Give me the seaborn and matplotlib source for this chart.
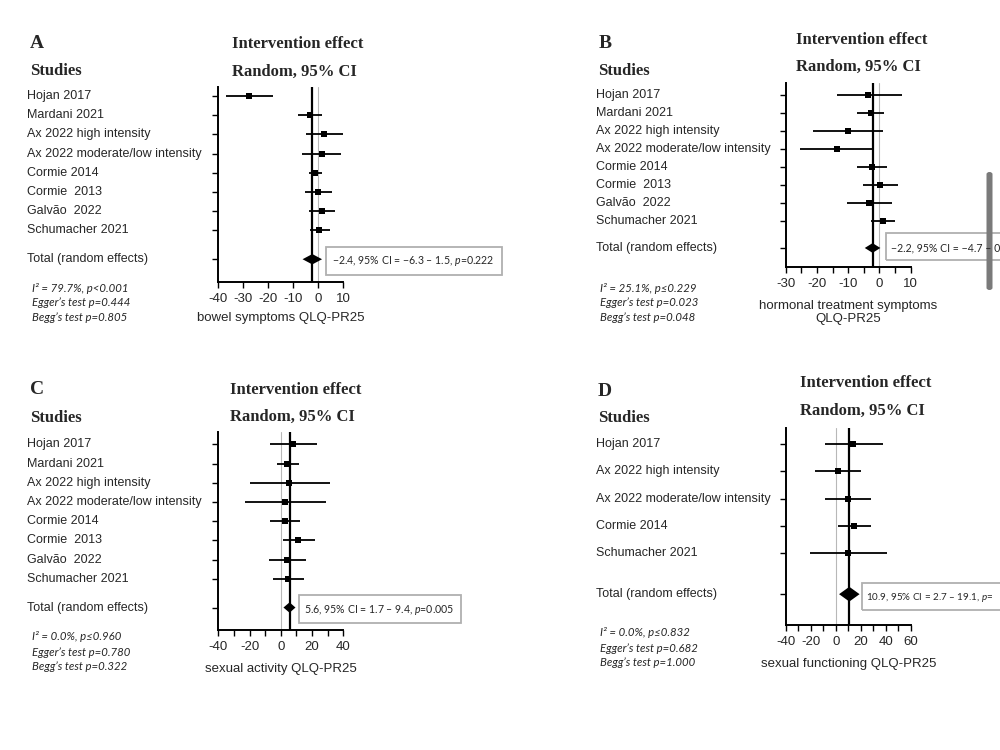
"""
Forest plots (random effects) for four QLQ-PR25 outcomes.
"""

import matplotlib
matplotlib.use("Agg")
import matplotlib.pyplot as plt
import pandas as pd
import seaborn as sns
from matplotlib import transforms
from matplotlib.patches import Rectangle, FancyBboxPatch

W, H = 1000, 750

studies_8 = ["Hojan 2017", "Mardani 2021", "Ax 2022 high intensity",
             "Ax 2022 moderate/low intensity", "Cormie 2014", "Cormie  2013",
             "Galvão  2022", "Schumacher 2021"]
studies_5 = ["Hojan 2017", "Ax 2022 high intensity", "Ax 2022 moderate/low intensity",
             "Cormie 2014", "Schumacher 2021"]

# A - bowel symptoms
a_est = [-27.6, -3.3, 2.3, 1.3, -1.5, 0.0, 1.5, 0.4]
a_lo = [-37.0, -8.0, -5.0, -6.4, -3.9, -5.3, -3.9, -3.4]
a_hi = [-18.0, 1.3, 10.0, 9.1, 1.3, 5.4, 6.7, 4.7]
a_total = [-2.4, -6.3, 1.5]
a_ticks = [-40, -30, -20, -10, 0, 10]
a_ticklabels = ["-40", "-30", "-20", "-10", "0", "10"]
a_stats = ["I² = 79.7%, p<0.001", "Egger’s test p=0.444", "Begg’s test p=0.805"]
a_box = "−2.4, 95% CI = −6.3 – 1.5, $p$=0.222"

# B - hormonal treatment symptoms
b_est = [-3.6, -2.8, -10.0, -13.7, -2.5, 0.2, -3.3, 1.0]
b_lo = [-13.5, -7.1, -21.2, -25.4, -7.1, -5.2, -10.5, -2.7]
b_hi = [7.1, 1.5, 1.2, -1.7, 2.5, 6.0, 4.1, 5.0]
b_total = [-2.2, -4.7, 0.3]
b_ticks = [-30, -25, -20, -15, -10, -5, 0, 5, 10]
b_ticklabels = ["-30", "", "-20", "", "-10", "", "0", "", "10"]
b_stats = ["I² = 25.1%, p≤0.229", "Egger’s test p=0.023", "Begg’s test p=0.048"]
b_box = "−2.2, 95% CI = −4.7 – 0"

# C - sexual activity
c_est = [8.0, 4.2, 5.4, 2.7, 2.7, 11.2, 4.2, 4.5]
c_lo = [-6.9, -2.6, -19.7, -22.9, -6.9, 1.6, -7.7, -4.8]
c_hi = [23.0, 11.6, 31.5, 28.9, 12.3, 21.9, 15.9, 14.6]
c_total = [5.6, 1.7, 9.4]
c_ticks = [-40, -30, -20, -10, 0, 10, 20, 30, 40]
c_ticklabels = ["-40", "", "-20", "", "0", "", "20", "", "40"]
c_stats = ["I² = 0.0%, p≤0.960", "Egger’s test p=0.780", "Begg’s test p=0.322"]
c_box = "5.6, 95% CI = 1.7 – 9.4, $p$=0.005"

# D - sexual functioning
d_est = [14.1, 1.6, 10.1, 14.9, 10.1]
d_lo = [-8.6, -16.6, -8.6, 1.6, -20.6]
d_hi = [38.1, 20.0, 28.0, 28.3, 40.8]
d_total = [10.9, 2.7, 19.1]
d_ticks = [-40, -30, -20, -10, 0, 10, 20, 30, 40, 50, 60]
d_ticklabels = ["-40", "", "-20", "", "0", "", "20", "", "40", "", "60"]
d_stats = ["I² = 0.0%, p≤0.832", "Egger’s test p=0.682", "Begg’s test p=1.000"]
d_box = "10.9, 95% CI = 2.7 – 19.1, $p$="

sns.set_theme(style="white")
plt.rcParams["font.family"] = ["Liberation Sans", "DejaVu Sans"]
plt.rcParams["axes.unicode_minus"] = False
plt.rcParams["mathtext.fontset"] = "custom"
plt.rcParams["mathtext.it"] = "Lato:italic"
plt.rcParams["mathtext.rm"] = "Lato"
plt.rcParams["mathtext.default"] = "it"

SERIF = ["Liberation Serif", "DejaVu Serif"]
SMALL = ["Lato", "DejaVu Sans"]

fig = plt.figure(figsize=(10, 7.5), dpi=100)


def fx(x):
    return x / W


def fy(y):
    return 1 - y / H


def forest(ax_box, studies, est, lo, hi, total, ticks, ticklabels, xlabel,
           pad_top, pad_bottom, name_x, labelpad):
    left, top, right, bottom = ax_box
    ax = fig.add_axes([fx(left), fy(bottom), (right - left) / W, (bottom - top) / H])
    df = pd.DataFrame({"study": studies, "est": est, "lo": lo, "hi": hi,
                       "row": range(len(studies))})
    total_row = len(studies) + 0.5

    ax.axvline(0, color="#b8b8b8", lw=0.8, zorder=1)
    ax.axvline(total[0], color="black", lw=1.6, zorder=2)
    ax.hlines(df["row"], df["lo"], df["hi"], color="black", lw=1.3, zorder=3)
    sns.scatterplot(data=df, x="est", y="row", marker="s", color="black", s=18,
                    linewidth=0, ax=ax, zorder=4, legend=False)
    t_est, t_lo, t_hi = total
    ax.fill([t_lo, t_est, t_hi, t_est],
            [total_row, total_row - 0.27, total_row, total_row + 0.27],
            color="black", lw=0, zorder=4)

    ax.set_xlim(ticks[0], ticks[-1])
    ax.set_ylim(total_row + pad_bottom, -pad_top)
    ax.set_xticks(ticks)
    ax.set_xticklabels(ticklabels, fontsize=9.5)
    ax.set_yticks(list(df["row"]) + [total_row])
    ax.set_yticklabels([])
    ax.tick_params(direction="out", length=4, width=1.0, color="black", pad=4,
                   left=True, bottom=True)
    ax.set_xlabel(xlabel, fontsize=9.5, labelpad=labelpad, linespacing=1.2)
    ax.set_ylabel("")
    for side in ["top", "right"]:
        ax.spines[side].set_visible(False)
    for side in ["left", "bottom"]:
        ax.spines[side].set_linewidth(1.4)
        ax.spines[side].set_color("black")

    trans = transforms.blended_transform_factory(fig.transFigure, ax.transData)
    for name, r in zip(studies, df["row"]):
        fig.text(fx(name_x), r, name, transform=trans, fontsize=9,
                 ha="left", va="center")
    fig.text(fx(name_x), total_row, "Total (random effects)", transform=trans,
             fontsize=9, ha="left", va="center")
    return ax


def headers(letter, letter_xy, studies_xy, effect_xy, random_xy, stats, stats_x, stats_y):
    fig.text(fx(letter_xy[0]), fy(letter_xy[1]), letter, family=SERIF,
             fontweight="bold", fontsize=14, va="center")
    fig.text(fx(studies_xy[0]), fy(studies_xy[1]), "Studies", family=SERIF,
             fontweight="bold", fontsize=12, va="center")
    fig.text(fx(effect_xy[0]), fy(effect_xy[1]), "Intervention effect", family=SERIF,
             fontweight="bold", fontsize=12, va="center")
    fig.text(fx(random_xy[0]), fy(random_xy[1]), "Random, 95% CI", family=SERIF,
             fontweight="bold", fontsize=12, va="center")
    for line, y in zip(stats, stats_y):
        fig.text(fx(stats_x), fy(y), line, family=SMALL, style="italic",
                 fontsize=8.2, va="center")


def result_box(x0, y0, x1, y1, text, tx, ty, size=7.6):
    fig.add_artist(Rectangle((fx(x0), fy(y1)), (x1 - x0) / W, (y1 - y0) / H,
                             transform=fig.transFigure, fill=False,
                             edgecolor="#b0b0b0", lw=1.3))
    fig.text(fx(tx), fy(ty), text, family=SMALL, fontsize=size, va="center")


# A
forest((218.3, 87, 343.3, 281.7), studies_8, a_est, a_lo, a_hi, a_total,
       a_ticks, a_ticklabels, "bowel symptoms QLQ-PR25", 0.47, 1.17, 27, 5)
headers("A", (30, 44), (30, 71), (232, 44), (232, 72), a_stats, 32, [288, 303, 318])
result_box(326, 247, 502, 275, a_box, 332, 261.5)

# B
forest((785.7, 83.3, 910.7, 266.7), studies_8, b_est, b_lo, b_hi, b_total,
       b_ticks, b_ticklabels, "hormonal treatment symptoms\nQLQ-PR25", 0.65, 1.04, 596, 7)
headers("B", (599, 43), (598, 71), (796, 40), (796, 67), b_stats, 600, [288, 303, 318])
result_box(885.7, 232.7, 1010, 260, b_box, 891, 248.3)

# C
forest((218.3, 431.7, 343.3, 630), studies_8, c_est, c_lo, c_hi, c_total,
       c_ticks, c_ticklabels, "sexual activity QLQ-PR25", 0.66, 1.17, 27, 7)
headers("C", (30, 390), (30, 418), (230, 390), (230, 417), c_stats, 32, [637, 652, 666])
result_box(299.3, 595, 460.7, 623.3, c_box, 304, 610)

# D
forest((785.7, 428.3, 910.7, 625), studies_5, d_est, d_lo, d_hi, d_total,
       d_ticks, d_ticklabels, "sexual functioning QLQ-PR25", 0.58, 1.13, 596, 7)
headers("D", (598, 391), (598, 418), (800, 383), (800, 411), d_stats, 600, [633, 648, 662])
result_box(861.7, 582.7, 1010, 610, d_box, 866, 597.7, size=7.1)

# grey scroll bar at the right edge of the screenshot
fig.add_artist(FancyBboxPatch((fx(986.5), fy(290)), 6 / W, 118 / H,
                              boxstyle="round,pad=0,rounding_size=0.003",
                              transform=fig.transFigure, facecolor="#7a7a7a",
                              edgecolor="none"))

fig.savefig("out.png", dpi=100)
